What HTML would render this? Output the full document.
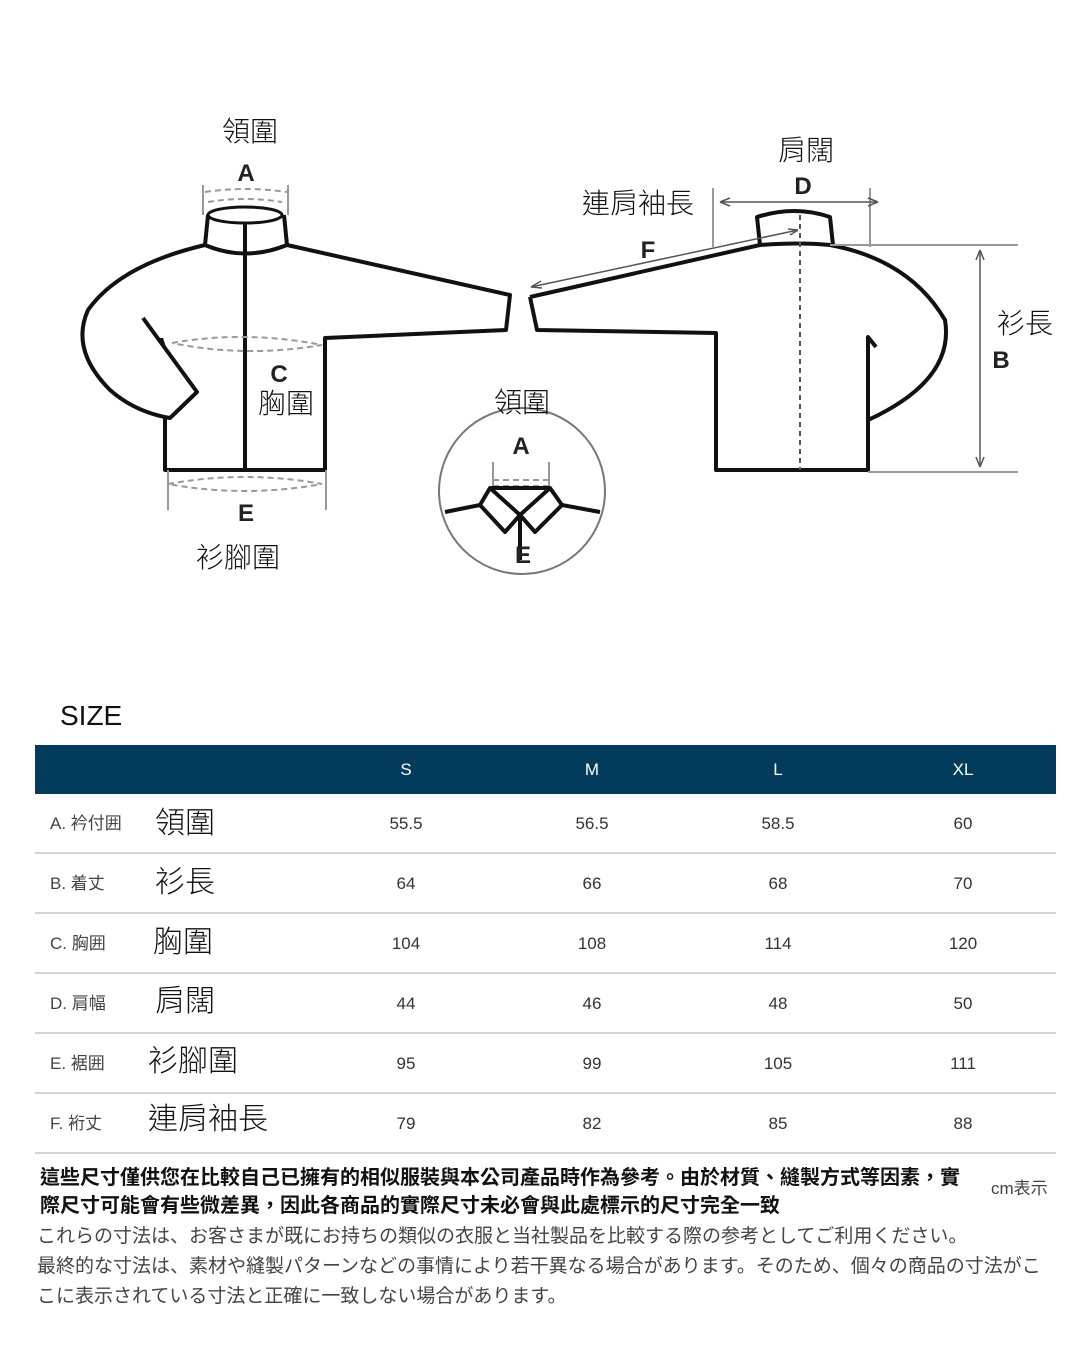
<!DOCTYPE html>
<html><head><meta charset="utf-8"><style>
html,body{margin:0;padding:0;background:#fff;}
body{width:1080px;height:1350px;position:relative;overflow:hidden;font-family:"Liberation Sans","Noto Sans CJK TC",sans-serif;}
.a{position:absolute;white-space:nowrap;}
.cj{font-family:"Liberation Sans","Noto Sans CJK TC",sans-serif;font-weight:300;font-size:28px;color:#111;line-height:1;}
.hd{position:absolute;left:35px;top:745px;width:1021px;height:49px;background:#023b5c;}
.hl{position:absolute;left:35px;width:1021px;height:2px;background:#d4d4d4;}
.n{font-size:17px;color:#333;transform:translateX(-50%);line-height:1;}
.h{font-size:17px;color:#fff;transform:translateX(-50%);line-height:1;}
.l{font-size:17px;color:#444;left:50px;line-height:1;font-family:"Liberation Sans","Noto Sans CJK JP",sans-serif;}
.b{font-size:20px;font-weight:bold;color:#111;font-family:"Liberation Sans","Noto Sans CJK TC",sans-serif;line-height:1;}
.j{font-size:19px;color:#444;font-family:"Liberation Sans","Noto Sans CJK JP",sans-serif;line-height:1;}
</style></head><body>
<svg class="a" style="left:0;top:0" width="1080" height="600" viewBox="0 0 1080 600">
<g fill="none" stroke="#111" stroke-width="4" stroke-linejoin="round">
<!-- left jacket -->
<ellipse cx="245" cy="215" rx="37" ry="8" stroke-width="3"/>
<path d="M208 215 L205 245 Q245 262 287 245 L284 215"/>
<path d="M287 245 L510 295 L506 330 L325 338 L325 470 L165 470 L165 418"/>
<path d="M205 245 Q120 265 88 310 Q70 350 110 390 Q135 412 170 418 L197 392 L143 318"/>
<path d="M245 222 L245 470"/>
<path d="M760 245 L757 217 Q795 205 830 217 L833 245"/>
<path d="M530 297 L760 245 Q800 242 830 245 Q910 260 945 320 Q955 380 868 420"/>
<path d="M868 420 L868 337 L876 347"/>
<path d="M868 420 L868 470 L716 470 L716 333 L537 330 L530 297"/>
</g>
<path d="M160 338 L167 350 L163 338 Z" fill="#111"/>
<g fill="none" stroke="#999" stroke-width="2" stroke-dasharray="6 4">
<path d="M172 343 Q245 330 322 345 Q245 358 172 343"/>
<path d="M168 484 Q245 470 322 484 Q245 498 168 484"/>
<path d="M205 192 Q245 186 287 192"/><path d="M208 202 Q245 196 282 202"/>
<path d="M800 215 L800 470" stroke="#555" stroke-dasharray="5 4"/>
<path d="M493 480 L548 480"/><path d="M493 486 L548 486"/>
</g>
<g stroke="#999" stroke-width="2" fill="none">
<path d="M203 185 L203 215 M288 185 L288 215"/>
<path d="M168 470 L168 510 M326 470 L326 510"/>
<path d="M713 188 L713 247 M870 188 L870 247"/>
<path d="M830 245 L1018 245 M868 472 L1018 472"/>
<path d="M493 462 L493 488 M549 462 L549 488"/>
</g>
<g stroke="#555" stroke-width="1.5" fill="none">
<path d="M720 202 L878 202"/><path d="M720 202 L730 198 M720 202 L730 206 M878 202 L868 198 M878 202 L868 206"/>
<path d="M980 250 L980 467"/><path d="M980 250 L976 260 M980 250 L984 260 M980 467 L976 457 M980 467 L984 457"/>
<path d="M531 287 L798 230"/><path d="M531 287 L541 281 M531 287 L542 288 M798 230 L788 229 M798 230 L790 235"/>
</g>
<circle cx="522" cy="491" r="83" fill="none" stroke="#777" stroke-width="2"/>
<g fill="none" stroke="#111" stroke-width="4" stroke-linejoin="round">
<path d="M445 512 L480 505 L490 488 L550 488 L562 505 L600 512"/>
<path d="M480 505 L505 532 L520 515 L535 532 L562 505"/>
<path d="M490 488 L520 515 L550 488"/>
<path d="M520 515 L520 560"/>
</g>
<g font-family="Liberation Sans, sans-serif" font-weight="bold" font-size="24" fill="#222" text-anchor="middle">
<text x="246" y="181">A</text><text x="279" y="382">C</text><text x="246" y="521">E</text>
<text x="803" y="194">D</text><text x="648" y="258">F</text><text x="1001" y="368">B</text>
<text x="521" y="454">A</text><text x="523" y="563">E</text>
</g>
</svg>
<div class="a cj" style="left:222px;top:118px">領圍</div>
<div class="a cj" style="left:258px;top:390px">胸圍</div>
<div class="a cj" style="left:196px;top:544px">衫腳圍</div>
<div class="a cj" style="left:778px;top:137px">肩闊</div>
<div class="a cj" style="left:582px;top:190px">連肩袖長</div>
<div class="a cj" style="left:997px;top:310px">衫長</div>
<div class="a cj" style="left:494px;top:389px">領圍</div>
<div class="a" style="left:60px;top:702px;font-size:28px;color:#111;line-height:1">SIZE</div>
<div class="hd"></div>
<div class="a h" style="left:406px;top:761px">S</div>
<div class="a h" style="left:592px;top:761px">M</div>
<div class="a h" style="left:778px;top:761px">L</div>
<div class="a h" style="left:963px;top:761px">XL</div>
<div class="hl" style="top:852px"></div><div class="hl" style="top:912px"></div><div class="hl" style="top:972px"></div><div class="hl" style="top:1032px"></div><div class="hl" style="top:1092px"></div><div class="hl" style="top:1152px"></div>

<div class="a l" style="top:815px">A. 衿付囲</div><div class="a cj" style="left:155px;top:809px;font-size:30px">領圍</div>
<div class="a n" style="left:406px;top:815px">55.5</div><div class="a n" style="left:592px;top:815px">56.5</div><div class="a n" style="left:778px;top:815px">58.5</div><div class="a n" style="left:963px;top:815px">60</div>

<div class="a l" style="top:875px">B. 着丈</div><div class="a cj" style="left:155px;top:868px;font-size:30px">衫長</div>
<div class="a n" style="left:406px;top:875px">64</div><div class="a n" style="left:592px;top:875px">66</div><div class="a n" style="left:778px;top:875px">68</div><div class="a n" style="left:963px;top:875px">70</div>

<div class="a l" style="top:935px">C. 胸囲</div><div class="a cj" style="left:153px;top:928px;font-size:30px">胸圍</div>
<div class="a n" style="left:406px;top:935px">104</div><div class="a n" style="left:592px;top:935px">108</div><div class="a n" style="left:778px;top:935px">114</div><div class="a n" style="left:963px;top:935px">120</div>

<div class="a l" style="top:995px">D. 肩幅</div><div class="a cj" style="left:155px;top:987px;font-size:30px">肩闊</div>
<div class="a n" style="left:406px;top:995px">44</div><div class="a n" style="left:592px;top:995px">46</div><div class="a n" style="left:778px;top:995px">48</div><div class="a n" style="left:963px;top:995px">50</div>

<div class="a l" style="top:1055px">E. 裾囲</div><div class="a cj" style="left:148px;top:1047px;font-size:30px">衫腳圍</div>
<div class="a n" style="left:406px;top:1055px">95</div><div class="a n" style="left:592px;top:1055px">99</div><div class="a n" style="left:778px;top:1055px">105</div><div class="a n" style="left:963px;top:1055px">111</div>

<div class="a l" style="top:1115px">F. 裄丈</div><div class="a cj" style="left:148px;top:1105px;font-size:30px">連肩袖長</div>
<div class="a n" style="left:406px;top:1115px">79</div><div class="a n" style="left:592px;top:1115px">82</div><div class="a n" style="left:778px;top:1115px">85</div><div class="a n" style="left:963px;top:1115px">88</div>

<div class="a b" style="left:40px;top:1168px">這些尺寸僅供您在比較自己已擁有的相似服裝與本公司產品時作為參考。由於材質、縫製方式等因素，實</div>
<div class="a b" style="left:40px;top:1196px">際尺寸可能會有些微差異，因此各商品的實際尺寸未必會與此處標示的尺寸完全一致</div>
<div class="a" style="left:991px;top:1180px;font-size:17px;color:#444;line-height:1">cm表示</div>
<div class="a j" style="left:37px;top:1227px">これらの寸法は、お客さまが既にお持ちの類似の衣服と当社製品を比較する際の参考としてご利用ください。</div>
<div class="a j" style="left:37px;top:1257px">最終的な寸法は、素材や縫製パターンなどの事情により若干異なる場合があります。そのため、個々の商品の寸法がこ</div>
<div class="a j" style="left:37px;top:1287px">こに表示されている寸法と正確に一致しない場合があります。</div>
</body></html>
